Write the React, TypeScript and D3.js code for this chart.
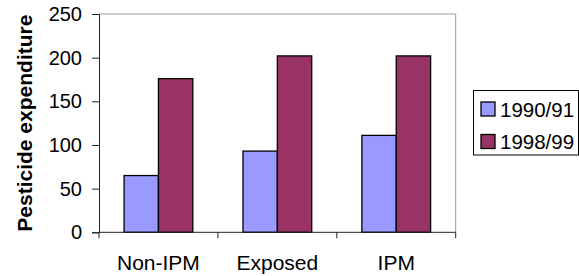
import React, { useEffect, useRef } from 'react';
import * as d3 from 'd3';

const categories = ['Non-IPM', 'Exposed', 'IPM'];
const seriesNames = ['1990/91', '1998/99'];
const values1990 = [65, 93, 111];
const values1998 = [176, 202, 202];
const yTicks = [0, 50, 100, 150, 200, 250];
const colors = ['#9999FF', '#993366'];

const App: React.FC = () => {
    const d3Container = useRef<SVGSVGElement | null>(null);

    useEffect(() => {
        if (!d3Container.current) return;
        const width = 579;
        const height = 276;
        const left = 99;
        const right = 455.7;
        const top = 14;
        const bottom = 232.3;
        const font = 'Liberation Sans, Arial, sans-serif';

        const rows = categories.map((c, i) => ({
            category: c,
            values: [values1990[i], values1998[i]],
        }));

        const x0 = d3.scaleBand<string>()
            .domain(categories)
            .range([left, right])
            .padding(0);

        const x1 = d3.scaleBand<string>()
            .domain(seriesNames)
            .range([0, x0.bandwidth()])
            .paddingInner(0)
            .paddingOuter(0.73);

        const y = d3.scaleLinear()
            .domain([0, 250])
            .range([bottom, top]);

        // Clear previous SVG
        d3.select(d3Container.current).selectAll('*').remove();

        const svg = d3.select(d3Container.current)
            .attr('width', width)
            .attr('height', height);

        svg.append('rect')
            .attr('width', width)
            .attr('height', height)
            .attr('fill', 'white');

        // plot frame (top + right, gray)
        svg.append('path')
            .attr('d', `M${left},${top}H${right}V${bottom}`)
            .attr('fill', 'none')
            .attr('stroke', '#999')
            .attr('stroke-width', 1);

        // bars
        const groups = svg.selectAll('.group')
            .data(rows)
            .enter()
            .append('g')
            .attr('class', 'group')
            .attr('transform', d => `translate(${x0(d.category)},0)`);

        groups.selectAll('rect')
            .data(d => d.values.map((v, i) => ({ key: seriesNames[i], value: v, i })))
            .enter()
            .append('rect')
            .attr('x', d => x1(d.key) as number)
            .attr('y', d => y(d.value))
            .attr('width', x1.bandwidth())
            .attr('height', d => y(0) - y(d.value))
            .attr('fill', d => colors[d.i])
            .attr('stroke', '#000')
            .attr('stroke-width', 1.3);

        // y axis
        const yAxis = svg.append('g')
            .attr('transform', `translate(${left},0)`)
            .call(d3.axisLeft(y).tickValues(yTicks).tickSize(7).tickPadding(10));
        yAxis.select('.domain').attr('stroke', '#222');
        yAxis.selectAll('.tick line').attr('stroke', '#222');
        yAxis.selectAll('.tick text')
            .attr('font-family', font)
            .attr('font-size', '20px')
            .attr('fill', '#000');

        // x axis
        const xAxis = svg.append('g')
            .attr('transform', `translate(0,${bottom})`);
        xAxis.append('line')
            .attr('x1', left)
            .attr('x2', right)
            .attr('stroke', '#222');
        const boundaries = [left, ...categories.map(c => (x0(c) as number) + x0.bandwidth())];
        xAxis.selectAll('.xtick')
            .data(boundaries)
            .enter()
            .append('line')
            .attr('class', 'xtick')
            .attr('x1', d => d)
            .attr('x2', d => d)
            .attr('y1', 0)
            .attr('y2', 6)
            .attr('stroke', '#222');
        xAxis.selectAll('.xlabel')
            .data(categories)
            .enter()
            .append('text')
            .attr('class', 'xlabel')
            .attr('x', d => (x0(d) as number) + x0.bandwidth() / 2)
            .attr('y', 38)
            .attr('text-anchor', 'middle')
            .attr('font-family', font)
            .attr('font-size', '21px')
            .text(d => d);

        // y axis title
        svg.append('text')
            .attr('transform', `translate(31.5,${(top + bottom) / 2}) rotate(-90)`)
            .attr('text-anchor', 'middle')
            .attr('font-family', font)
            .attr('font-weight', 'bold')
            .attr('font-size', '21px')
            .text('Pesticide expenditure');

        // legend
        const legend = svg.append('g');
        legend.append('rect')
            .attr('x', 473.5)
            .attr('y', 90.5)
            .attr('width', 105)
            .attr('height', 64.5)
            .attr('fill', 'white')
            .attr('stroke', '#000')
            .attr('stroke-width', 1);
        const items = legend.selectAll('.item')
            .data(seriesNames)
            .enter()
            .append('g')
            .attr('class', 'item')
            .attr('transform', (d, i) => `translate(481,${102 + i * 32.5})`);
        items.append('rect')
            .attr('width', 14)
            .attr('height', 14)
            .attr('fill', (d, i) => colors[i])
            .attr('stroke', '#000')
            .attr('stroke-width', 1.3);
        items.append('text')
            .attr('x', 19)
            .attr('y', 14.5)
            .attr('font-family', font)
            .attr('font-size', '20.5px')
            .text(d => d);
    }, []);

    return (
        <div style={{ position: 'absolute', left: 0, top: 0 }}>
            <svg ref={d3Container} style={{ display: 'block' }} />
        </div>
    );
};

export default App;
